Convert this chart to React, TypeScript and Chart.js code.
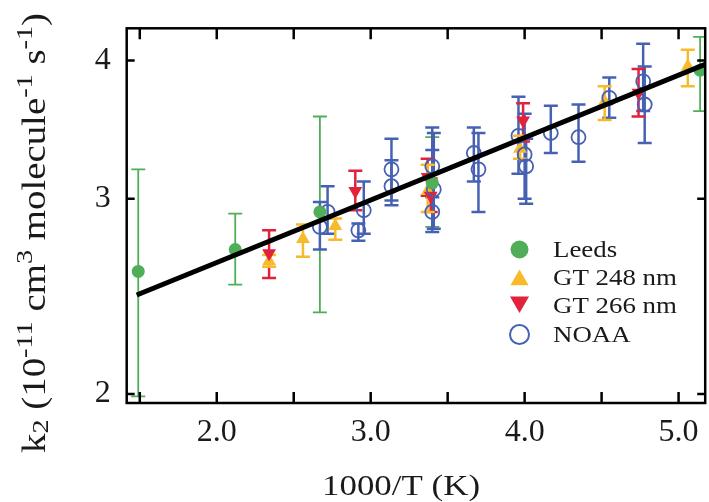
import React, { useEffect, useRef } from 'react';
import { Chart, registerables } from 'chart.js';

Chart.register(...registerables);

// ---------- data ----------
const xTicks = [2, 3, 4, 5];
const xTickMarks = [1.5, 2, 2.5, 3, 3.5, 4, 4.5, 5];
const yTicks = [2, 3, 4];

const leedsX = [1.49, 2.12, 2.67, 3.4, 5.14];
const leedsY = [2.58, 2.7, 2.92, 3.1, 3.92];
const leedsLo = [1.99, 2.51, 2.37, 2.83, 3.6];
const leedsHi = [3.19, 2.91, 3.56, 3.41, 4.2];

const gt248X = [2.34, 2.56, 2.77, 3.37, 3.97, 4.52, 5.06];
const gt248Y = [2.635, 2.76, 2.835, 3.05, 3.33, 3.67, 3.95];
const gt248Lo = [2.605, 2.66, 2.756, 2.92, 3.26, 3.535, 3.79];
const gt248Hi = [2.67, 2.845, 2.88, 3.22, 3.42, 3.79, 4.09];

const gt266X = [2.34, 2.9, 3.37, 3.39, 3.99, 4.74];
const gt266Y = [2.68, 3.05, 3.14, 3.02, 3.53, 3.74];
const gt266Lo = [2.545, 2.93, 3.02, 2.92, 3.38, 3.56];
const gt266Hi = [2.81, 3.18, 3.26, 3.13, 3.66, 3.93];

const noaaX = [2.67, 2.72, 2.92, 2.955, 3.135, 3.135, 3.4, 3.41, 3.4, 3.67, 3.7, 3.96, 4.0, 4.01, 4.17, 4.35, 4.55, 4.77, 4.78];
const noaaY = [2.83, 2.92, 2.81, 2.93, 3.19, 3.08, 3.21, 3.06, 2.92, 3.3, 3.19, 3.42, 3.29, 3.21, 3.44, 3.41, 3.7, 3.83, 3.65];
const noaaLo = [2.7, 2.79, 2.75, 2.79, 2.99, 2.96, 3.01, 2.82, 2.8, 3.11, 2.92, 3.16, 3.0, 2.97, 3.3, 3.24, 3.55, 3.6, 3.37];
const noaaHi = [2.98, 3.08, 2.85, 3.11, 3.4, 3.25, 3.48, 3.44, 3.32, 3.48, 3.44, 3.71, 3.58, 3.4, 3.64, 3.65, 3.86, 4.14, 3.95];

const fitX = [1.48, 5.173];
const fitY = [2.457, 3.968];

const seriesLabels = ['Leeds', 'GT 248 nm', 'GT 266 nm', 'NOAA'];
const xTitle = '1000/T (K)';
const yTitleParts = [
  { t: 'k', r: 'n' },
  { t: '2', r: 'sub' },
  { t: ' (10', r: 'n' },
  { t: '-11', r: 'sup' },
  { t: ' cm', r: 'n' },
  { t: '3', r: 'sup' },
  { t: ' molecule', r: 'n' },
  { t: '-1', r: 'sup' },
  { t: ' s', r: 'n' },
  { t: '-1', r: 'sup' },
  { t: ')', r: 'n' },
];

// ---------- styles ----------
const FONT = '"Liberation Serif", "Times New Roman", serif';
const GREEN = '#4fae57';
const YELLOW = '#f6bb2c';
const RED = '#e2213b';
const BLUE = '#4661b3';
const TEXT = '#1a1a1a';

const pts = (xs: number[], ys: number[]) => xs.map((x, i) => ({ x, y: ys[i] }));

function drawMarker(ctx: CanvasRenderingContext2D, kind: string, x: number, y: number, r: number, color: string) {
  ctx.save();
  ctx.fillStyle = color;
  ctx.strokeStyle = color;
  ctx.beginPath();
  if (kind === 'circle') {
    ctx.arc(x, y, r, 0, Math.PI * 2);
    ctx.fill();
  } else if (kind === 'ring') {
    ctx.lineWidth = 2;
    ctx.arc(x, y, r, 0, Math.PI * 2);
    ctx.stroke();
  } else {
    const s = kind === 'up' ? 1 : -1;
    ctx.moveTo(x, y - s * r);
    ctx.lineTo(x + 0.866 * r, y + s * 0.5 * r);
    ctx.lineTo(x - 0.866 * r, y + s * 0.5 * r);
    ctx.closePath();
    ctx.fill();
  }
  ctx.restore();
}

const errorBarPlugin = {
  id: 'errorBars',
  beforeDatasetsDraw(chart: any) {
    const { ctx, chartArea: a, scales } = chart;
    const xs = scales.x;
    const ys = scales.y;
    ctx.save();
    ctx.beginPath();
    ctx.rect(a.left, a.top, a.right - a.left, a.bottom - a.top);
    ctx.clip();
    chart.data.datasets.forEach((ds: any) => {
      const eb = ds.errorBars;
      if (!eb) return;
      ctx.strokeStyle = eb.color;
      ctx.lineWidth = eb.width;
      ds.data.forEach((p: any, i: number) => {
        const px = xs.getPixelForValue(p.x);
        const top = ys.getPixelForValue(eb.hi[i]);
        const bot = ys.getPixelForValue(eb.lo[i]);
        ctx.beginPath();
        ctx.moveTo(px, top);
        ctx.lineTo(px, bot);
        ctx.moveTo(px - 7, top);
        ctx.lineTo(px + 7, top);
        ctx.moveTo(px - 7, bot);
        ctx.lineTo(px + 7, bot);
        ctx.stroke();
      });
    });
    ctx.restore();
  },
};

const framePlugin = {
  id: 'frameAndText',
  afterDraw(chart: any) {
    const { ctx, chartArea: a, scales } = chart;
    const xs = scales.x;
    const ys = scales.y;
    ctx.save();
    // frame
    ctx.strokeStyle = '#000';
    ctx.lineWidth = 2.5;
    ctx.strokeRect(a.left, a.top, a.right - a.left, a.bottom - a.top);
    ctx.beginPath();
    xTickMarks.forEach((v) => {
      const px = xs.getPixelForValue(v);
      ctx.moveTo(px, a.bottom);
      ctx.lineTo(px, a.bottom - 11);
      ctx.moveTo(px, a.top);
      ctx.lineTo(px, a.top + 11);
    });
    yTicks.forEach((v) => {
      const py = ys.getPixelForValue(v);
      ctx.moveTo(a.left, py);
      ctx.lineTo(a.left + 8, py);
      ctx.moveTo(a.right, py);
      ctx.lineTo(a.right - 8, py);
    });
    ctx.stroke();

    ctx.fillStyle = TEXT;
    ctx.textBaseline = 'alphabetic';
    ctx.textAlign = 'left';

    // x title
    ctx.save();
    ctx.font = `30px ${FONT}`;
    const xw = ctx.measureText(xTitle).width;
    ctx.translate(322, 495);
    ctx.scale(158 / xw, 1);
    ctx.fillText(xTitle, 0, 0);
    ctx.restore();

    // y title (rotated, with super/subscripts)
    ctx.save();
    const big = 33;
    const small = 24;
    let total = 0;
    yTitleParts.forEach((s) => {
      ctx.font = `${s.r === 'n' ? big : small}px ${FONT}`;
      total += ctx.measureText(s.t).width;
    });
    ctx.translate(45, 453);
    ctx.rotate(-Math.PI / 2);
    ctx.scale(440 / total, 1);
    let cx = 0;
    yTitleParts.forEach((s) => {
      ctx.font = `${s.r === 'n' ? big : small}px ${FONT}`;
      const dy = s.r === 'sup' ? -13 : s.r === 'sub' ? 3 : 0;
      ctx.fillText(s.t, cx, dy);
      cx += ctx.measureText(s.t).width;
    });
    ctx.restore();

    // legend
    const kinds = ['circle', 'up', 'down', 'ring'];
    const colors = [GREEN, YELLOW, RED, BLUE];
    const markerY = [249.5, 280, 302, 334.5];
    const radii = [9, 10.5, 11, 9.5];
    const baseY = [257.3, 285.2, 313.3, 341.7];
    seriesLabels.forEach((lab, i) => {
      drawMarker(ctx, kinds[i], 519.5, markerY[i], radii[i], colors[i]);
      ctx.save();
      ctx.fillStyle = TEXT;
      ctx.font = `24px ${FONT}`;
      ctx.translate(553, baseY[i]);
      ctx.scale(1.12, 1);
      ctx.fillText(lab, 0, 0);
      ctx.restore();
    });
    ctx.restore();
  },
};

export default function App() {
  const ref = useRef<HTMLCanvasElement | null>(null);

  useEffect(() => {
    if (!ref.current) return;
    const chart = new Chart(ref.current, {
      type: 'scatter',
      data: {
        datasets: [
          {
            label: 'fit',
            data: pts(fitX, fitY),
            showLine: true,
            borderColor: '#000',
            borderWidth: 5,
            pointRadius: 0,
            fill: false,
          } as any,
          {
            label: seriesLabels[0],
            data: pts(leedsX, leedsY),
            pointStyle: 'circle',
            pointRadius: 6.5,
            backgroundColor: GREEN,
            borderColor: GREEN,
            borderWidth: 0,
            errorBars: { lo: leedsLo, hi: leedsHi, color: GREEN, width: 1.8 },
          } as any,
          {
            label: seriesLabels[3],
            data: pts(noaaX, noaaY),
            pointStyle: 'circle',
            pointRadius: 7,
            backgroundColor: 'rgba(0,0,0,0)',
            borderColor: BLUE,
            borderWidth: 1.8,
            errorBars: { lo: noaaLo, hi: noaaHi, color: BLUE, width: 2.5 },
          } as any,
          {
            label: seriesLabels[2],
            data: pts(gt266X, gt266Y),
            pointStyle: 'triangle',
            rotation: 180,
            pointRadius: 8,
            backgroundColor: RED,
            borderColor: RED,
            borderWidth: 0,
            errorBars: { lo: gt266Lo, hi: gt266Hi, color: RED, width: 2.5 },
          } as any,
          {
            label: seriesLabels[1],
            data: pts(gt248X, gt248Y),
            pointStyle: 'triangle',
            pointRadius: 8,
            backgroundColor: YELLOW,
            borderColor: YELLOW,
            borderWidth: 0,
            errorBars: { lo: gt248Lo, hi: gt248Hi, color: YELLOW, width: 2.5 },
          } as any,
        ],
      },
      options: {
        responsive: true,
        maintainAspectRatio: false,
        animation: false,
        events: [],
        layout: { padding: { top: 28.3, left: 0, right: 0, bottom: 0 } },
        plugins: { legend: { display: false }, tooltip: { enabled: false } },
        scales: {
          x: {
            type: 'linear',
            bounds: 'data',
            min: 1.415,
            max: 5.173,
            grid: { display: false, drawTicks: false },
            border: { display: false },
            ticks: {
              font: { family: FONT, size: 32 },
              color: TEXT,
              padding: 10,
              maxRotation: 0,
              autoSkip: false,
              callback: (v: any) => Number(v).toFixed(1),
            },
            afterBuildTicks: (s: any) => {
              s.ticks = xTicks.map((v) => ({ value: v }));
            },
            afterFit: (s: any) => {
              s.height = 99;
              s.paddingLeft = 0;
              s.paddingRight = 0;
            },
          },
          y: {
            type: 'logarithmic',
            bounds: 'data',
            min: 1.963,
            max: 4.276,
            grid: { display: false, drawTicks: false },
            border: { display: false },
            ticks: {
              font: { family: FONT, size: 32 },
              color: TEXT,
              padding: 16,
              autoSkip: false,
              callback: (v: any) => String(v),
            },
            afterBuildTicks: (s: any) => {
              s.ticks = yTicks.map((v) => ({ value: v }));
            },
            afterFit: (s: any) => {
              s.width = 126.7;
              s.paddingTop = 0;
              s.paddingBottom = 0;
            },
          },
        } as any,
      },
      plugins: [errorBarPlugin, framePlugin],
    });
    return () => chart.destroy();
  }, []);

  return (
    <div
      style={{
        position: 'fixed',
        left: 0,
        top: 0,
        width: 709,
        height: 502,
        overflow: 'hidden',
        background: '#fff',
      }}
    >
      <div style={{ position: 'relative', width: 714, height: 502 }}>
        <canvas ref={ref} />
      </div>
    </div>
  );
}
